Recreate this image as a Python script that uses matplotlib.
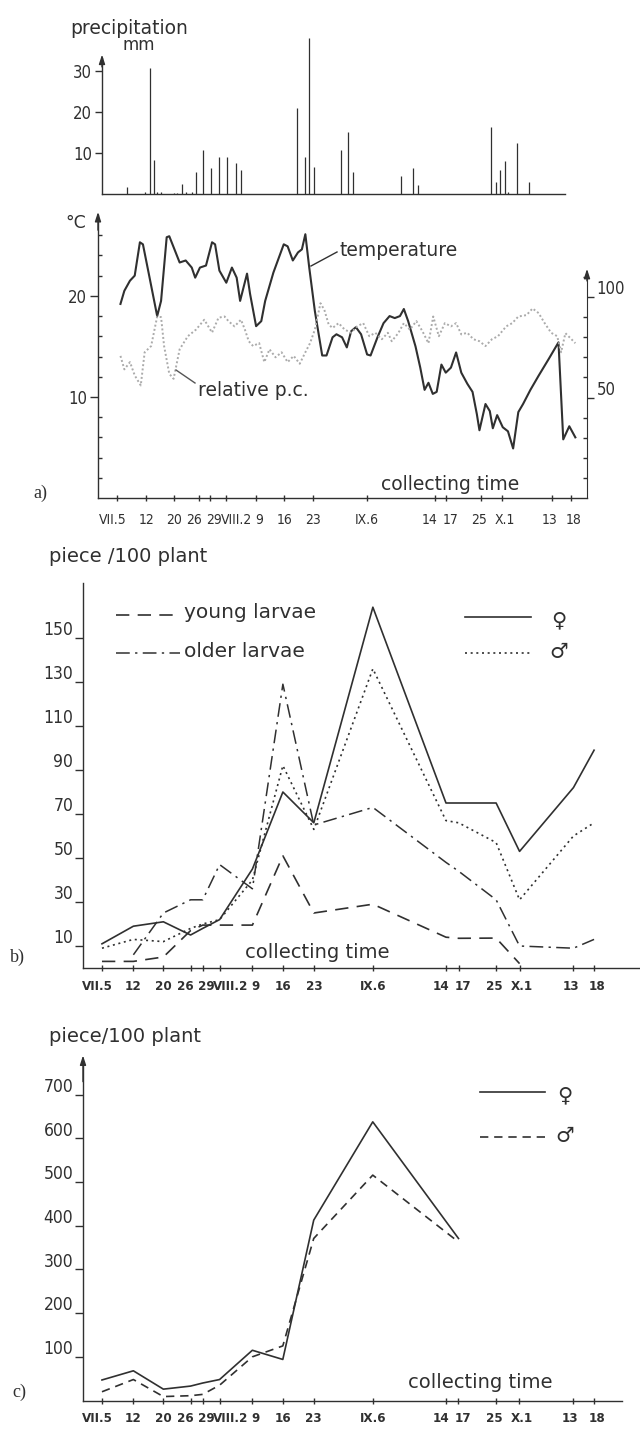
import matplotlib
matplotlib.use("Agg")
import matplotlib.pyplot as plt
from matplotlib import transforms as mtransforms

# ---------------- collecting dates (axis position, days after VII.5) ----------------
date_pos = [0, 6.7, 13.1, 18.9, 21.5, 25.1, 32.1, 38.6, 45.2, 57.8,
            73.4, 76.1, 84.1, 89.1, 100.6, 105]
date_labels = ["VII.5", "12", "20", "26", "29", "VIII.2", "9", "16", "23",
               "IX.6", "14", "17", "25", "X.1", "13", "18"]
# small sideways nudges (points) so that crowded labels sit side by side
label_nudge = [-3, 0, 0, -3.5, 2.5, 8, 2, 0, 0, 0, -3.5, 3, -1.5, 2, -2, 2]

# ---------------- a) daily precipitation (mm) ----------------
rain_day = [2.1, 6.4, 7.5, 8.4, 9.1, 10.1, 13.0, 13.7, 15.0, 15.9, 17.2, 18.1,
            19.8, 21.6, 23.5, 25.4, 27.4, 28.5, 41.5, 43.5, 44.4, 45.5, 51.8,
            53.3, 54.5, 65.7, 68.4, 69.6, 86.4, 87.6, 88.5, 89.6, 90.5, 92.5, 95.2]
rain_mm = [1.6, 0.4, 30.8, 8.4, 0.6, 0.6, 0.3, 0.3, 2.5, 0.5, 0.5, 5.3,
           10.7, 6.3, 9.0, 9.0, 7.6, 5.9, 21.0, 9.0, 38.0, 6.6, 10.8,
           15.2, 5.3, 4.3, 6.4, 2.1, 16.4, 2.9, 5.8, 8.0, 0.4, 12.5, 2.9]

# ---------------- a) air temperature (deg C) ----------------
temp_day = [0.7, 1.6, 2.9, 4.0, 5.2, 5.9, 7.3, 9.2, 10.1, 11.4, 12.0, 14.4,
            15.8, 17.2, 18.0, 19.1, 20.5, 21.9, 22.6, 23.6, 25.2, 26.5, 27.6,
            28.4, 30.0, 30.7, 32.1, 33.3, 34.2, 36.1, 38.5, 39.4, 40.6, 41.8,
            42.7, 43.5, 44.4, 45.7, 47.4, 48.4, 49.8, 50.7, 52.0, 53.1, 54.1,
            55.2, 56.4, 57.8, 58.6, 60.2, 61.6, 63.0, 64.2, 65.4, 66.3, 67.3,
            69.0, 70.1, 71.1, 72.0, 73.0, 73.9, 75.0, 76.0, 77.2, 78.4, 79.6,
            81.0, 82.2, 83.2, 83.8, 85.2, 86.2, 86.9, 87.9, 89.2, 90.4, 91.6,
            92.8, 93.9, 95.6, 97.5, 99.9, 102.1, 103.2, 104.6, 106.0]
temp_c = [19.2, 20.5, 21.5, 22.0, 25.3, 25.1, 22.1, 18.0, 19.5, 25.8, 25.9, 23.3,
          23.5, 22.8, 21.8, 22.8, 23.0, 25.3, 25.1, 22.5, 21.3, 22.8, 21.8,
          19.5, 22.2, 20.2, 17.0, 17.5, 19.5, 22.3, 25.1, 24.9, 23.5, 24.3,
          24.6, 26.1, 22.8, 18.5, 14.1, 14.1, 15.9, 16.2, 15.9, 14.9, 16.5,
          16.9, 16.2, 14.2, 14.1, 15.9, 17.3, 18.0, 17.8, 18.0, 18.7, 17.5,
          15.0, 12.9, 10.7, 11.4, 10.3, 10.5, 13.2, 12.4, 12.9, 14.4, 12.4,
          11.3, 10.5, 8.3, 6.7, 9.3, 8.6, 6.9, 8.2, 7.0, 6.6, 4.9,
          8.5, 9.3, 10.7, 12.1, 13.8, 15.4, 5.8, 7.1, 6.0]

# ---------------- a) relative humidity (%) ----------------
rh_day = [0.7, 1.6, 2.9, 4.0, 5.4, 6.3, 7.8, 9.2, 10.1, 10.8, 12.0, 13.0,
          14.4, 16.3, 18.2, 20.1, 21.9, 23.4, 24.8, 25.7, 27.1, 28.6, 29.5,
          30.4, 31.4, 32.8, 34.0, 35.2, 36.6, 38.0, 39.4, 40.8, 42.2, 43.5,
          44.6, 45.7, 47.0, 47.9, 48.9, 49.8, 51.2, 52.6, 54.1, 55.5, 56.9,
          58.3, 59.7, 61.2, 62.6, 63.5, 65.0, 66.3, 67.7, 69.2, 70.6, 72.0,
          73.1, 74.4, 75.8, 77.2, 78.4, 79.6, 81.0, 82.4, 83.8, 85.2, 86.7,
          88.1, 90.0, 91.4, 92.8, 94.7, 96.1, 97.5, 98.9, 100.4, 101.8, 102.7,
          103.7, 105.1, 106.0]
rh_pct = [70.7, 64, 67.6, 61, 56, 72.5, 75.6, 90.3, 90, 75.6, 61.8, 59.3,
          74, 80.5, 83.8, 88.7, 82.3, 89.7, 90.3, 88, 85.4, 88.7, 83.8,
          78, 75.6, 77.1, 67.6, 74, 70, 72.5, 67.6, 70.7, 66.8, 72.5,
          77.1, 83.8, 96.9, 93.6, 86.3, 84.6, 87, 83.8, 82.2, 85.4, 87,
          80.5, 82.2, 79, 82.2, 78, 82, 87, 83.8, 88, 83, 77,
          90.3, 80.5, 87, 85.4, 87, 81.4, 82.2, 79, 78, 75.6, 79,
          80.5, 85.4, 87, 90.3, 91, 94.3, 92, 87, 82.2, 80.5, 72.5,
          82, 79, 77]

# ---------------- b) larvae and adults, piece / 100 plant ----------------
b_female = [11, 19, 21, 15, 18, 22, 45, 80, 66, 164, 75, 75, 75, 53, 82, 99]
b_male = [9, 13, 12, 18, 20, 22, 40, 92, 63, 136, 67, 66, 57, 31, 60, 66]
b_young = [3, 3, 5, 17, 19.5, 19.5, 19.5, 51, 25, 29, 14, 13.5, 13.6, 2]
b_older = [6, 25, 31, 31, 47, 36, 129, 65, 73, 48, 44, 31, 10, 9, 13]

# ---------------- c) adults, piece / 100 plant ----------------
c_date_idx = [0, 1, 2, 3, 4, 5, 6, 7, 8, 9, 11]
c_female = [47, 68, 26, 33, 40, 48, 115, 94, 413, 638, 371]
c_male = [20, 48, 9, 11, 14, 35, 100, 125, 371, 516, 363]

# ---------------- drawing ----------------
W, H = 640, 1431
INK = "#303030"
GREY = "#ababab"
TXT = ["DejaVu Sans"]
NUM = ["DejaVu Sans"]
SERIF = ["Liberation Serif", "DejaVu Serif"]

plt.rcParams["font.family"] = TXT
fig = plt.figure(figsize=(W / 100, H / 100), dpi=100)
fig.patch.set_facecolor("white")


def add_ax(l, t, r, b):
    return fig.add_axes([l / W, 1 - b / H, (r - l) / W, (b - t) / H])


def ftext(x, y, s, **kw):
    kw.setdefault("color", INK)
    return fig.text(x / W, 1 - y / H, s, **kw)


def base_style(ax):
    for side in ("top", "right"):
        ax.spines[side].set_visible(False)
    for side in ("left", "bottom"):
        ax.spines[side].set_color(INK)
        ax.spines[side].set_linewidth(1.0)
    ax.patch.set_alpha(0)
    ax.tick_params(colors=INK, width=1.0)


def shift(lab, dx_pt, dy_pt):
    off = mtransforms.ScaledTranslation(dx_pt / 72, dy_pt / 72, fig.dpi_scale_trans)
    lab.set_transform(lab.get_transform() + off)


def up_arrow(ax, x, y0, y1):
    ax.annotate("", xy=(x, y1), xytext=(x, y0), xycoords=ax.transData,
                arrowprops=dict(arrowstyle="-|>,head_length=0.55,head_width=0.18",
                                color=INK, lw=1.0, shrinkA=0, shrinkB=0),
                annotation_clip=False)


def num_labels(setter, values, size, weight="normal"):
    return setter([str(v) for v in values], family=NUM, fontsize=size,
                  fontstretch="condensed", weight=weight)


def date_axis(ax, labelsize, y_pad, weight):
    # tick geometry first: changing it later would reset the label transforms
    ax.tick_params(axis="x", direction="inout", length=5, pad=y_pad)
    ax.set_xticks(date_pos)
    labs = ax.set_xticklabels(date_labels, family=NUM, fontsize=labelsize,
                              fontstretch="condensed", weight=weight)
    for lab, dx in zip(labs, label_nudge):
        shift(lab, dx, 0)


# ---- a) precipitation ----
axP = add_ax(102, 30, 587, 194)
base_style(axP)
axP.set_xlim(-3.6, 108.7)
axP.set_ylim(0, 40)
axP.vlines(rain_day, 0, rain_mm, color=INK, lw=0.9)
axP.spines["left"].set_bounds(0, 33.2)
axP.spines["bottom"].set_bounds(-3.6, 103.6)
axP.set_xticks([])
axP.tick_params(axis="y", direction="out", length=5, pad=2)
axP.set_yticks([10, 20, 30])
num_labels(axP.set_yticklabels, [10, 20, 30], 12)
up_arrow(axP, -3.6, 31.0, 34.0)
ftext(70, 28, "precipitation", fontsize=13.5, ha="left", va="center")
ftext(123, 45, "mm", fontsize=12, ha="left", va="center")

# ---- a) temperature and relative humidity ----
axT = add_ax(98, 215, 587, 498)
base_style(axT)
axT.set_xlim(-4.5, 108.7)
axT.set_ylim(0, 28)
axT.plot(temp_day, temp_c, color=INK, lw=1.5, zorder=3)
axT.tick_params(axis="y", which="major", direction="out", length=6, pad=2)
axT.tick_params(axis="y", which="minor", direction="in", length=3, width=1.0, colors=INK)
axT.set_yticks([10, 20])
num_labels(axT.set_yticklabels, [10, 20], 12)
axT.set_yticks(range(2, 28, 2), minor=True)
date_axis(axT, 10, 8, "normal")
up_arrow(axT, -4.5, 26.5, 28.3)

axH = axT.twinx()
axH.set_ylim(0, 140.8)
for side in ("top", "left", "bottom"):
    axH.spines[side].set_visible(False)
axH.spines["right"].set_color(INK)
axH.spines["right"].set_bounds(0, 112)
axH.patch.set_alpha(0)
axH.plot(rh_day, rh_pct, color=GREY, lw=1.4, linestyle=(0, (1, 1.2)), zorder=2)
axH.tick_params(axis="y", which="major", direction="out", length=5, pad=2, colors=INK, width=1.0)
axH.tick_params(axis="y", which="minor", direction="in", length=3, colors=INK, width=1.0)
axH.set_yticks([50, 100])
labs = num_labels(axH.set_yticklabels, [50, 100], 12)
axH.set_yticks(range(10, 111, 10), minor=True)
for lab in labs:
    shift(lab, 0, 7)
up_arrow(axH, 108.7, 108, 114)

ftext(65, 223, "°C", fontsize=12.5, ha="left", va="center")
ftext(339, 250, "temperature", fontsize=13.5, ha="left", va="center")
ftext(198, 390, "relative p.c.", fontsize=13.5, ha="left", va="center")
ftext(381, 485, "collecting time", fontsize=13.5, ha="left", va="center")
ftext(33, 493, "a)", family=SERIF, fontsize=13, ha="left", va="center")
fig.add_artist(plt.Line2D([337 / W, 311 / W], [1 - 252 / H, 1 - 266 / H], color=INK, lw=1.0))
fig.add_artist(plt.Line2D([195 / W, 176 / W], [1 - 383 / H, 1 - 370 / H], color="#555555", lw=1.0))

# ---- b) larvae and adults ----
axB = add_ax(83, 583, 640, 968)
base_style(axB)
axB.set_xlim(-4.05, 114.8)
axB.set_ylim(0, 175)
axB.plot(date_pos, b_female, color=INK, lw=1.2)
axB.plot(date_pos, b_male, color=INK, lw=1.2, linestyle=(0, (1.2, 2.2)))
axB.plot(date_pos[:len(b_young)], b_young, color=INK, lw=1.2, linestyle=(0, (8, 5)))
axB.plot(date_pos[1:1 + len(b_older)], b_older, color=INK, lw=1.1,
         linestyle=(0, (9, 3.5, 1.5, 3.5)))
b_ticks = list(range(10, 151, 20))
axB.tick_params(axis="y", direction="out", length=6, pad=1)
axB.set_yticks(b_ticks)
labs = num_labels(axB.set_yticklabels, b_ticks, 12.5)
for lab in labs:
    shift(lab, 0, 7)
date_axis(axB, 9.5, 6, "bold")

ftext(49, 557, "piece /100 plant", fontsize=14, ha="left", va="center")
ftext(245, 952, "collecting time", fontsize=14, ha="left", va="center")
ftext(10, 957, "b)", family=SERIF, fontsize=13, ha="left", va="center")
# legend
fig.add_artist(plt.Line2D([116 / W, 180 / W], [1 - 615 / H] * 2, color=INK, lw=1.2,
                          linestyle=(0, (8, 5))))
fig.add_artist(plt.Line2D([116 / W, 180 / W], [1 - 653 / H] * 2, color=INK, lw=1.1,
                          linestyle=(0, (9, 3.5, 1.5, 3.5))))
ftext(184, 613, "young larvae", fontsize=14.5, ha="left", va="center")
ftext(184, 651, "older larvae", fontsize=14.5, ha="left", va="center")
fig.add_artist(plt.Line2D([465 / W, 531 / W], [1 - 617 / H] * 2, color=INK, lw=1.2))
fig.add_artist(plt.Line2D([465 / W, 531 / W], [1 - 653 / H] * 2, color=INK, lw=1.2,
                          linestyle=(0, (1.2, 2.2))))
ftext(559, 620, "♀", fontsize=15, ha="center", va="center")
ftext(559, 652, "♂", fontsize=15, ha="center", va="center")

# ---- c) adults ----
axC = add_ax(83, 1062, 622, 1400.5)
base_style(axC)
axC.set_xlim(-4.05, 111.0)
axC.set_ylim(0, 775)
c_x = [date_pos[i] for i in c_date_idx]
axC.plot(c_x, c_female, color=INK, lw=1.2)
axC.plot(c_x, c_male, color=INK, lw=1.2, linestyle=(0, (5, 3.5)))
c_ticks = list(range(100, 701, 100))
axC.tick_params(axis="y", direction="out", length=6, pad=1)
axC.set_yticks(c_ticks)
labs = num_labels(axC.set_yticklabels, c_ticks, 12.5)
for lab in labs:
    shift(lab, 0, 7)
date_axis(axC, 9.5, 6, "bold")
up_arrow(axC, -4.05, 730, 790)

ftext(49, 1037, "piece/100 plant", fontsize=14, ha="left", va="center")
ftext(408, 1382, "collecting time", fontsize=14, ha="left", va="center")
ftext(12, 1392, "c)", family=SERIF, fontsize=13, ha="left", va="center")
fig.add_artist(plt.Line2D([480 / W, 545 / W], [1 - 1092 / H] * 2, color=INK, lw=1.2))
fig.add_artist(plt.Line2D([480 / W, 545 / W], [1 - 1137 / H] * 2, color=INK, lw=1.2,
                          linestyle=(0, (5, 3.5))))
ftext(565, 1095, "♀", fontsize=15, ha="center", va="center")
ftext(565, 1136, "♂", fontsize=15, ha="center", va="center")

fig.savefig("out.png", dpi=100, facecolor="white")
